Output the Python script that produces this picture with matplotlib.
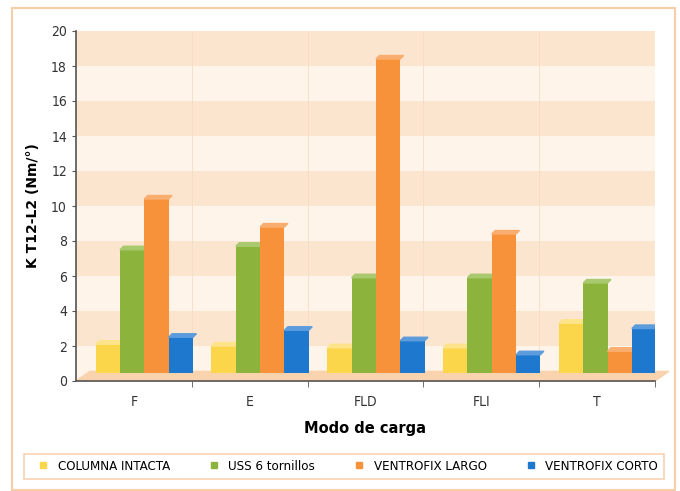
import numpy as np
import matplotlib.pyplot as plt
from matplotlib.patches import Polygon, Rectangle
from matplotlib.lines import Line2D

# data
modos = ["F", "E", "FLD", "FLI", "T"]
series = ["COLUMNA INTACTA", "USS 6 tornillos", "VENTROFIX LARGO", "VENTROFIX CORTO"]
columna = [2.1, 2.0, 1.9, 1.9, 3.3]
uss = [7.5, 7.7, 5.9, 5.9, 5.6]
largo = [10.4, 8.8, 18.4, 8.4, 1.7]
corto = [2.5, 2.9, 2.3, 1.5, 3.0]

colors = ["#FCD64A", "#8CB43C", "#F7913A", "#1E78CE"]
tops = ["#FDE38A", "#A9C96E", "#F9AE70", "#5C9CDD"]

fig = plt.figure(figsize=(6.8, 4.91), dpi=100)
fig.patch.set_facecolor("white")
# outer frame
fig.add_artist(Rectangle((12/680, 1-490/491), 663/680, 482/491, transform=fig.transFigure,
                         fill=False, ec="#F6CFA8", lw=1.5))

ax = fig.add_axes([76/680, 1-381/491, 579/680, 350/491])
ax.set_facecolor("#FEF4EA")
for lo in range(2, 20, 4):
    ax.axhspan(lo, lo + 2, color="#FCE5CF", zorder=0, lw=0)
for b in np.arange(0.5, 4.5, 1):
    ax.axvline(b, color="#F6DCC4", lw=0.6, zorder=0.5)

# floor
floor = 0.45
ax.add_patch(Polygon([(-0.5, 0), (4.5, 0), (4.62, floor + 0.1), (-0.38, floor + 0.1)],
                     closed=True, color="#F9D3AE", zorder=1, clip_on=False))

x = np.arange(len(modos))
w = 0.21
data = [columna, uss, largo, corto]
for i, vals in enumerate(data):
    xs = x + 0.09 + (i - 1.5) * w
    bars = ax.bar(xs, np.array(vals) - floor, w, bottom=floor, color=colors[i],
                  zorder=2 + i * 0.01, label=series[i])
    for r in bars:
        x0, y0 = r.get_x(), r.get_y() + r.get_height()
        ax.add_patch(Polygon([(x0, y0), (x0 + w, y0), (x0 + w + 0.03, y0 + 0.2), (x0 + 0.03, y0 + 0.2)],
                             closed=True, color=tops[i], zorder=2 + i * 0.01))

ax.set_xlim(-0.5, 4.5)
ax.set_ylim(0, 20)
ax.set_yticks(range(0, 21, 2))
ax.set_xticks(x)
ax.set_xticklabels(modos, fontsize=10, fontstretch="condensed", color="#333333")
ax.set_xticks(np.arange(0.5, 4.6, 1), minor=True)
ax.tick_params(axis="x", which="major", length=0, pad=10)
ax.tick_params(axis="x", which="minor", length=4, direction="out", color="#555555")
ax.tick_params(axis="y", length=3, color="#555555", labelsize=10, labelcolor="#333333")
for t in ax.get_yticklabels():
    t.set_fontstretch("condensed")
for s in ["top", "right"]:
    ax.spines[s].set_visible(False)
ax.spines["left"].set_color("#555555")
ax.spines["bottom"].set_color("#555555")
ax.spines["left"].set_linewidth(1.2)
ax.spines["bottom"].set_linewidth(1.2)
ax.set_xlabel("Modo de carga", fontsize=10.5, fontweight="bold", labelpad=9)
ax.set_ylabel("K T12-L2 (Nm/°)", fontsize=10, fontweight="bold", labelpad=8)

handles = [Line2D([], [], marker="s", ls="", color=c, markersize=4) for c in colors]
leg = fig.legend(handles, series, loc="lower left", mode="expand",
                 bbox_to_anchor=(24/680, 1-479/491, 640/680, 32/491),
                 ncol=4, frameon=True, fancybox=False, edgecolor="#F6C7A0",
                 prop={"size": 9.5, "stretch": "condensed"}, handletextpad=0.1,
                 borderpad=0.45, borderaxespad=0)
leg.get_frame().set_linewidth(1.2)

fig.savefig("out.png", dpi=100)
